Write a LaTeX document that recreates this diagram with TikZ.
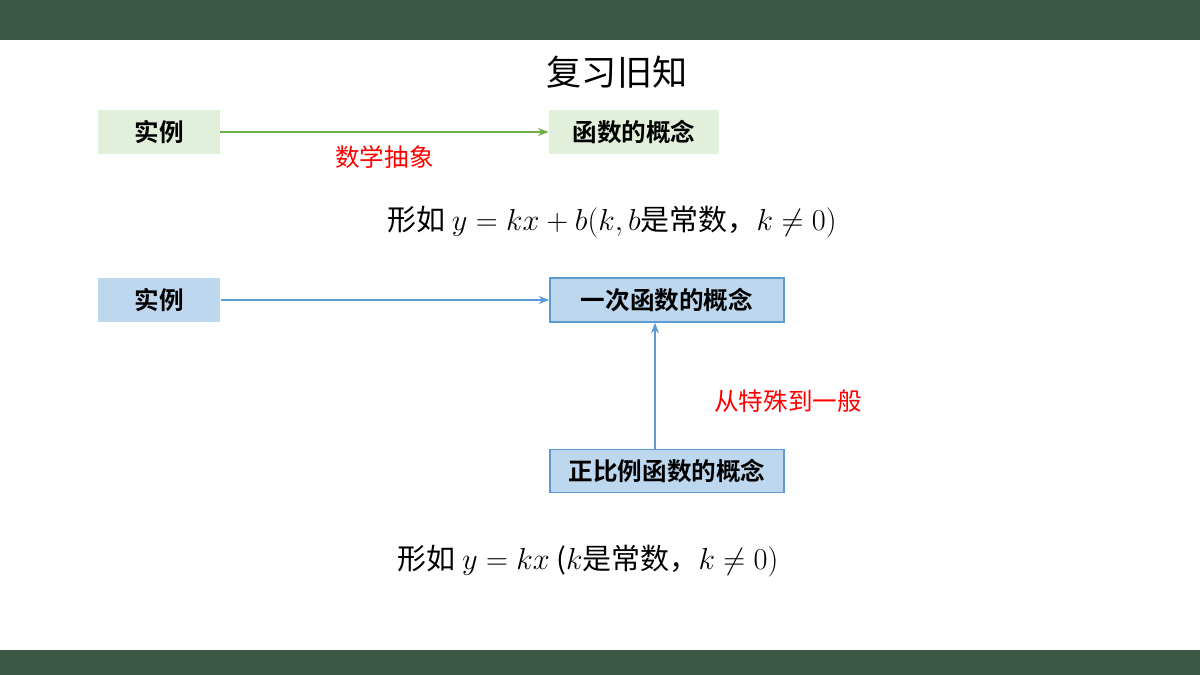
\documentclass[tikz,border=0pt]{standalone}
\usepackage{fontspec}
\usetikzlibrary{arrows.meta}
\newfontfamily\cjk{Noto Sans CJK SC}
\newfontfamily\cjkb{Noto Sans CJK SC Bold}
\definecolor{bar}{HTML}{3B5745}
\definecolor{lg}{HTML}{E2EFDA}
\definecolor{lb}{HTML}{BDD7EE}
\definecolor{bl}{HTML}{5B9BD5}
\definecolor{gr}{HTML}{70AD47}
\definecolor{rd}{HTML}{FF0000}
\tikzset{
 gbox/.style={fill=lg,draw=none,inner sep=0pt,font=\cjkb\fontsize{14}{16}\selectfont},
 bbox/.style={fill=lb,draw=bl,line width=0.8pt,inner sep=0pt,font=\cjkb\fontsize{14}{16}\selectfont},
 lbl/.style={text=rd,font=\cjk\fontsize{14}{16}\selectfont},
 fml/.style={font=\cjk\fontsize{16.5}{19}\selectfont}
}
\begin{document}
\begin{tikzpicture}[x=0.02cm,y=-0.02cm]
\useasboundingbox (0,0) rectangle (1200,675);
\fill[bar] (0,0) rectangle (1200,40);
\fill[bar] (0,650) rectangle (1200,675);
\node (title) at (617,72) {\cjk\fontsize{20}{24}\selectfont 复习旧知};
\node[gbox,minimum width=122*0.02cm,minimum height=44*0.02cm] (s1) at (159,132) {实例};
\node[gbox,minimum width=170*0.02cm,minimum height=44*0.02cm] (f1) at (634,132) {函数的概念};
\draw[gr,line width=1pt,-{Stealth[length=6pt]}] (s1.east) -- (f1.west) node[lbl,midway,below=4pt] {数学抽象};
\node[fml] (eq1) at (612,222) {形如 $y=kx+b(k,b$是常数，$k\neq 0)$};
\node[bbox,fill=lb,draw=none,minimum width=122*0.02cm,minimum height=44*0.02cm] (s2) at (159,300) {实例};
\node[bbox,minimum width=234*0.02cm,minimum height=44*0.02cm] (f2) at (667,300) {一次函数的概念};
\node[bbox,minimum width=234*0.02cm,minimum height=43*0.02cm] (f3) at (667,471) {正比例函数的概念};
\draw[bl,line width=1.2pt,-{Stealth[length=6pt]}] (s2.east) -- (f2.west);
\draw[bl,line width=1.2pt,-{Stealth[length=6pt]}] (f3.north -| 655,0) -- (f2.south -| 655,0);
\node[lbl] (l2) at (788,401) {从特殊到一般};
\node[fml] (eq2) at (588,561) {形如 $y=kx$ ($k$是常数，$k\neq 0)$};
\end{tikzpicture}
\end{document}
